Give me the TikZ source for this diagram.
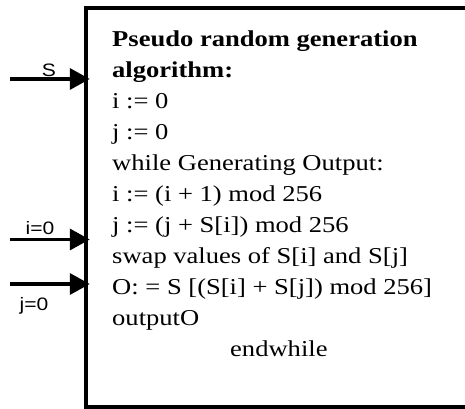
\documentclass[tikz,border=0pt]{standalone}
\usepackage{fontspec}
\setmainfont{Liberation Serif}
\newfontfamily\labelfont{Liberation Sans}
\usetikzlibrary{arrows.meta}

% text is set slightly wide
\newcommand{\wide}[1]{\scalebox{1.17}[1]{#1}}

\tikzset{
  codeline/.style={anchor=base west, inner sep=0pt, font=\fontsize{22.7}{27}\selectfont},
  inlabel/.style={anchor=base, inner sep=0pt, font=\labelfont\fontsize{18}{21}\selectfont},
  inarrow/.style={line width=3.6pt, -{Triangle[length=20pt,width=21pt]}, shorten >=-6pt},
  block/.style={draw, line width=4.5pt, rectangle, inner sep=0pt}
}

\begin{document}
\begin{tikzpicture}[x=1pt, y=-1pt]
\useasboundingbox (0,0) rectangle (465,408);
\fill[white] (0,0) rectangle (465,408);

% the generator block (runs past the right edge)
\node[block, minimum width=386pt, minimum height=399.5pt, anchor=north west]
  (box) at (86-2.25, 8-2.25) {};

% algorithm text
\node[codeline] (l1)  at (112, 46)  {\wide{\textbf{Pseudo random generation}}};
\node[codeline] (l2)  at (112, 77)  {\wide{\textbf{algorithm:}}};
\node[codeline] (l3)  at (112, 108) {\wide{i := 0}};
\node[codeline] (l4)  at (112, 139) {\wide{j := 0}};
\node[codeline] (l5)  at (112, 170) {\wide{while Generating Output:}};
\node[codeline] (l6)  at (112, 201) {\wide{i := (i + 1) mod 256}};
\node[codeline] (l7)  at (112, 232) {\wide{j := (j + S[i]) mod 256}};
\node[codeline] (l8)  at (112, 263) {\wide{swap values of S[i] and S[j]}};
\node[codeline] (l9)  at (112, 294) {\wide{O: = S [(S[i] + S[j]) mod 256]}};
\node[codeline] (l10) at (112, 325) {\wide{outputO}};
\node[codeline] (l11) at (230, 356) {\wide{endwhile}};

% inputs
\coordinate (sIn) at (10, 79);
\coordinate (iIn) at (10, 239.5);
\coordinate (jIn) at (10, 284);

\node[inlabel] (sLab) at (49, 76)  {\wide{S}};
\node[inlabel] (iLab) at (40, 234) {\wide{i=0}};
\node[inlabel] (jLab) at (34, 310) {\wide{j=0}};

\draw[inarrow] (sIn) -- (sIn -| box.west);
\draw[inarrow] (iIn) -- (iIn -| box.west);
\draw[inarrow] (jIn) -- (jIn -| box.west);
\end{tikzpicture}
\end{document}
